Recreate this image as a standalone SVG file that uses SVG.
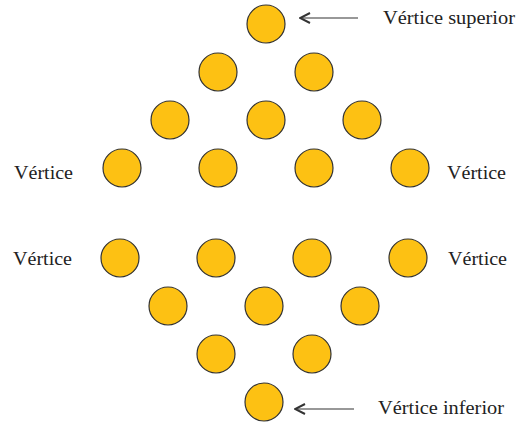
<svg xmlns="http://www.w3.org/2000/svg" width="523" height="422" viewBox="0 0 523 422">
<style>
.n{fill:#FDC113;stroke:#333;stroke-width:1.2}
.t{font-family:"Liberation Serif","DejaVu Serif",serif;font-size:19px;fill:#222}
.a{stroke:#333;stroke-width:1.2;fill:none}
</style>
<defs>
<marker id="ah" viewBox="0 0 12 12" refX="11" refY="6" markerWidth="12" markerHeight="12" markerUnits="userSpaceOnUse" orient="auto">
<path d="M1,1 L11,6 L1,11" fill="none" stroke="#333" stroke-width="2"/>
</marker>
</defs>
<g id="top">
<circle class="n" cx="266" cy="24" r="19"/>
<circle class="n" cx="218" cy="72" r="19"/>
<circle class="n" cx="314" cy="72" r="19"/>
<circle class="n" cx="170" cy="120" r="19"/>
<circle class="n" cx="266" cy="120" r="19"/>
<circle class="n" cx="362" cy="120" r="19"/>
<circle class="n" cx="122" cy="168" r="19"/>
<circle class="n" cx="218" cy="168" r="19"/>
<circle class="n" cx="314" cy="168" r="19"/>
<circle class="n" cx="410" cy="168" r="19"/>
</g>
<g id="bottom">
<circle class="n" cx="120" cy="258" r="19"/>
<circle class="n" cx="216" cy="258" r="19"/>
<circle class="n" cx="312" cy="258" r="19"/>
<circle class="n" cx="408" cy="258" r="19"/>
<circle class="n" cx="168" cy="306" r="19"/>
<circle class="n" cx="264" cy="306" r="19"/>
<circle class="n" cx="360" cy="306" r="19"/>
<circle class="n" cx="216" cy="354" r="19"/>
<circle class="n" cx="312" cy="354" r="19"/>
<circle class="n" cx="264" cy="402" r="19"/>
</g>
<g id="connectors">
<line class="a" x1="358" y1="18" x2="300" y2="18" marker-end="url(#ah)"/>
<line class="a" x1="354" y1="409" x2="295" y2="409" marker-end="url(#ah)"/>
</g>
<g id="labels">
<text class="t" x="383" y="24" textLength="132" lengthAdjust="spacingAndGlyphs">Vértice superior</text>
<text class="t" x="14" y="179" textLength="59" lengthAdjust="spacingAndGlyphs">Vértice</text>
<text class="t" x="447" y="179" textLength="59" lengthAdjust="spacingAndGlyphs">Vértice</text>
<text class="t" x="13" y="265" textLength="59" lengthAdjust="spacingAndGlyphs">Vértice</text>
<text class="t" x="448" y="265" textLength="59" lengthAdjust="spacingAndGlyphs">Vértice</text>
<text class="t" x="378" y="414" textLength="126" lengthAdjust="spacingAndGlyphs">Vértice inferior</text>
</g>
</svg>
